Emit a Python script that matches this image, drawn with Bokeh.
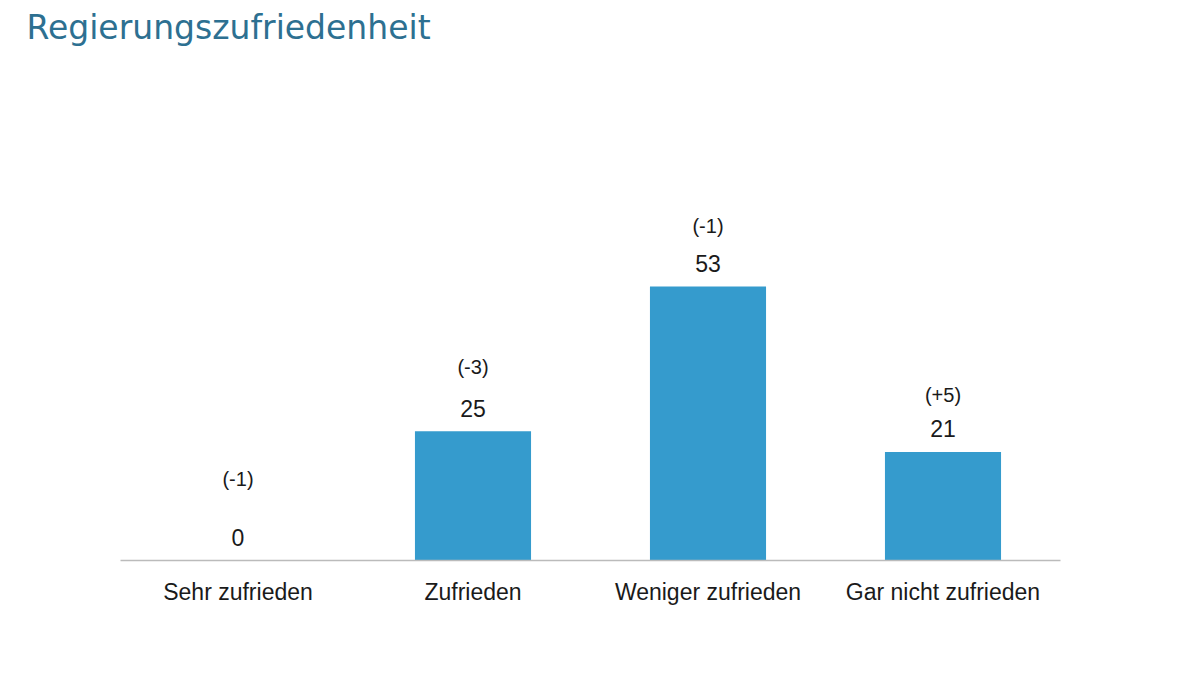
from bokeh.plotting import figure
from bokeh.models import ColumnDataSource, Range1d, FactorRange
from bokeh.core.properties import value
from bokeh.embed import file_html
from bokeh.resources import INLINE

categories = ["Sehr zufrieden", "Zufrieden", "Weniger zufrieden", "Gar nicht zufrieden"]
values = [0, 25, 53, 21]
changes = ["(-1)", "(-3)", "(-1)", "(+5)"]

# label pixel offsets (layout only)
change_offsets = [-82, -64, -61, -57]

src = ColumnDataSource(dict(
    cat=categories,
    val=values,
    val_txt=[str(v) for v in values],
    chg=changes,
    chg_off=change_offsets,
))

p = figure(width=1184, height=659, output_backend="svg", toolbar_location=None,
           x_range=FactorRange(factors=categories, range_padding=0),
           y_range=Range1d(0, 98.5),
           min_border_left=120, min_border_right=124, min_border_bottom=99, min_border_top=47)

p.title.text = "Regierungszufriedenheit"
p.title.text_font = "DejaVu Sans"
p.title.text_font_size = "33px"
p.title.text_font_style = "normal"
p.title.text_color = "#2D7091"
p.title.offset = -94

p.vbar(x="cat", top="val", width=0.494, source=src, color="#359BCD", line_color=None)

p.text(x="cat", y="val", text="val_txt", source=src, y_offset=-23,
       text_align="center", text_baseline="middle",
       text_font=value("Liberation Sans"), text_font_size="23px", text_color="#1a1a1a")
p.text(x="cat", y="val", text="chg", source=src, y_offset="chg_off",
       text_align="center", text_baseline="middle",
       text_font=value("Liberation Sans"), text_font_size="20px", text_color="#1a1a1a")

p.yaxis.visible = False
p.xgrid.visible = False
p.ygrid.visible = False
p.outline_line_color = None

ax = p.xaxis[0]
ax.axis_line_color = "#BBBBBB"
ax.axis_line_width = 1.5
ax.major_tick_line_color = None
ax.minor_tick_line_color = None
ax.major_tick_out = 0
ax.major_label_standoff = 18
ax.major_label_text_font = "Liberation Sans"
ax.major_label_text_font_size = "23px"
ax.major_label_text_color = "#1a1a1a"

open("out.html", "w").write(file_html(p, INLINE))
